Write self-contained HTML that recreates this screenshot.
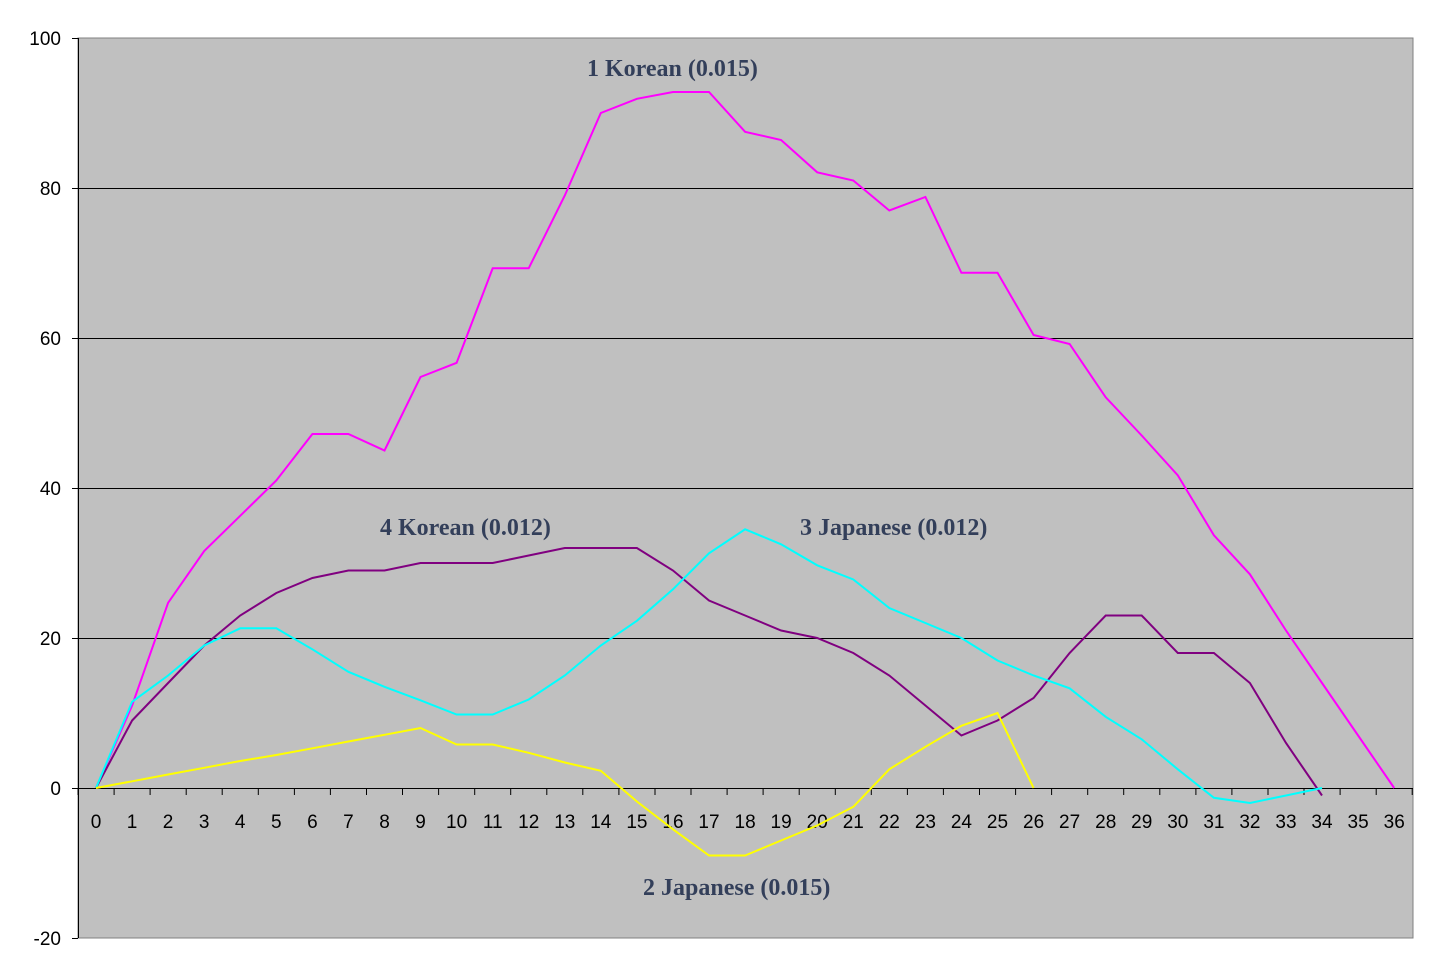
<!DOCTYPE html>
<html><head><meta charset="utf-8"><style>
html,body{margin:0;padding:0;background:#fff;}
svg{display:block;}
</style></head><body>
<svg width="1434" height="966" xmlns="http://www.w3.org/2000/svg">
<rect x="78" y="38" width="1335" height="900" fill="#c0c0c0" stroke="#808080" stroke-width="1"/>
<g stroke="#000" stroke-width="1">
<line x1="78" y1="188.5" x2="1413" y2="188.5"/>
<line x1="78" y1="338.5" x2="1413" y2="338.5"/>
<line x1="78" y1="488.5" x2="1413" y2="488.5"/>
<line x1="78" y1="638.5" x2="1413" y2="638.5"/>
<line x1="78" y1="788.5" x2="1413" y2="788.5"/>
<line x1="78.5" y1="38" x2="78.5" y2="938"/>
</g>
<g id="ticks" stroke="#000" stroke-width="1"></g>
<g font-family="Liberation Sans, sans-serif" font-size="19" fill="#000" text-anchor="end">
<text x="61" y="45">100</text><text x="61" y="195">80</text><text x="61" y="345">60</text>
<text x="61" y="495">40</text><text x="61" y="645">20</text><text x="61" y="795">0</text><text x="61" y="945">-20</text>
</g>
<g id="xl" font-family="Liberation Sans, sans-serif" font-size="19" fill="#000" text-anchor="middle"></g>
<g fill="none" stroke-width="2">
<polyline id="p1" stroke="#ff00ff"/>
<polyline id="p4" stroke="#800080"/>
<polyline id="p3" stroke="#00ffff"/>
<polyline id="p2" stroke="#ffff00"/>
</g>
<g font-family="Liberation Serif, serif" font-weight="bold" font-size="24" fill="#333f5a">
<text x="587" y="76">1 Korean (0.015)</text>
<text x="380" y="535">4 Korean (0.012)</text>
<text x="800" y="535">3 Japanese (0.012)</text>
<text x="643" y="895">2 Japanese (0.015)</text>
</g>
</svg>
<script>
const X=i=>96+i*36.06, Y=v=>788-v*7.5;
const d1=[0,11,24.7,31.6,36.3,41,47.2,47.2,45,54.8,56.7,69.3,69.3,79,90,91.9,92.8,92.8,87.5,86.4,82.1,81,77,78.8,68.7,68.7,60.4,59.2,52.1,47,41.7,33.7,28.5,21,14,7,0];
const d4=[0,9,14,19,23,26,28,29,29,30,30,30,31,32,32,32,29,25,23,21,20,18,15,11,7,9,12,18,23,23,18,18,14,6,-1];
const d3=[0,11.5,15,19,21.3,21.3,18.5,15.5,13.5,11.7,9.8,9.8,11.8,15,19,22.3,26.5,31.3,34.5,32.5,29.7,27.8,24,22,20,17,15,13.3,9.5,6.5,2.5,-1.3,-2,-1,0];
const d2=[0,0.9,1.8,2.7,3.6,4.4,5.3,6.2,7.1,8,5.8,5.8,4.7,3.4,2.3,-1.8,-5.5,-9,-9,-7,-5,-2.5,2.5,5.5,8.3,10,0];
const pts=d=>d.map((v,i)=>X(i).toFixed(1)+','+Y(v).toFixed(1)).join(' ');
document.getElementById('p1').setAttribute('points',pts(d1));
document.getElementById('p4').setAttribute('points',pts(d4));
document.getElementById('p3').setAttribute('points',pts(d3));
document.getElementById('p2').setAttribute('points',pts(d2));
let t='',l='';
for(let k=0;k<=37;k++){const x=(78+k*36.06).toFixed(1);t+=`<line x1="${x}" y1="788" x2="${x}" y2="795"/>`;}
for(let i=0;i<=36;i++){l+=`<text x="${X(i).toFixed(1)}" y="828">${i}</text>`;}
for(let v=-20;v<=100;v+=20){t+=`<line x1="72" y1="${Y(v)+0.5}" x2="78" y2="${Y(v)+0.5}"/>`;}
document.getElementById('ticks').innerHTML=t;
document.getElementById('xl').innerHTML=l;
</script>
</body></html>
